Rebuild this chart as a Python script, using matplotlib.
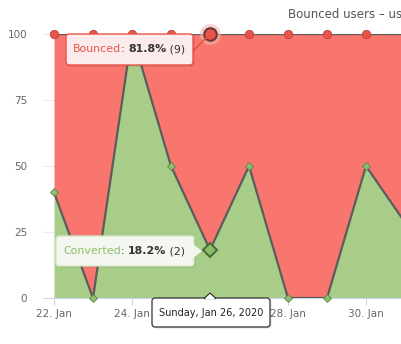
import numpy as np
import matplotlib.pyplot as plt
import matplotlib.dates as mdates
from matplotlib.patches import FancyBboxPatch, Polygon
import datetime as dt

# data: share of users per day (percent)
days = [dt.date(2020, 1, 22) + dt.timedelta(days=i) for i in range(10)]
converted = [40, 0, 100, 50, 18.2, 50, 0, 0, 50, 28.6]
bounced = [100 - v for v in converted]
y_ticks = [0, 25, 50, 75, 100]
title = "Bounced users \u2013 users who converted"
hover_idx = 4

red_fill = "#f8766d"
red_mark = "#e8534a"
green_fill = "#a7cd89"
green_mark = "#8cbf6b"
line_col = "#5c5c5c"

W, H = 401, 344
fig = plt.figure(figsize=(W / 100, H / 100), dpi=100)
ax = fig.add_axes([43 / W, 46 / H, (W - 43) / W, 264 / H])

x = mdates.date2num(days)
conv = np.array(converted)
top = conv + np.array(bounced)

ax.fill_between(x, 0, conv, color=green_fill, lw=0, zorder=1)
ax.fill_between(x, conv, top, color=red_fill, lw=0, zorder=1)
ax.plot(x, conv, color=line_col, lw=1.6, zorder=3)
ax.plot(x, top, color=line_col, lw=1.6, zorder=3)
ax.plot(x, conv, ls="none", marker="D", ms=4.5, mfc=green_mark, mec="#5e7f4b", mew=0.6, zorder=4, clip_on=False)
ax.plot(x, top, ls="none", marker="o", ms=6, mfc=red_mark, mec="#b5433c", mew=0.6, zorder=4, clip_on=False)

# hovered point
ax.plot(x[hover_idx], top[hover_idx], marker="o", ms=15, mfc="#f2b5b1", mec="none", alpha=0.6, zorder=4, clip_on=False)
ax.plot(x[hover_idx], top[hover_idx], marker="o", ms=9, mfc=red_mark, mec="#6b3a36", mew=1.5, zorder=5, clip_on=False)
ax.plot(x[hover_idx], conv[hover_idx], marker="D", ms=7, mfc=green_mark, mec="#4f6b3e", mew=1.5, zorder=5, clip_on=False)

day = 1.0
ax.set_xlim(x[0] - 11 / 39 * day, x[0] + (W - 54) / 39 * day)
ax.set_ylim(0, 100)
ax.set_yticks(y_ticks)
ax.set_yticklabels([str(t) for t in y_ticks])
ax.set_xticks(x[::2])
ax.xaxis.set_major_formatter(mdates.DateFormatter("%d. %b"))
ax.grid(axis="y", color="#ececec", lw=0.8, zorder=0)
ax.set_axisbelow(True)
for s in ["top", "right", "left"]:
    ax.spines[s].set_visible(False)
ax.spines["bottom"].set_color("#ccd6eb")
ax.tick_params(axis="y", length=0, pad=11.5, labelsize=7.5, labelcolor="#666666")
ax.tick_params(axis="x", length=5, color="#ccd6eb", pad=3, labelsize=7.5, labelcolor="#666666")
# the date tooltip covers this label in the original
ax.get_xticklabels()[2].set_visible(False)

# overlay in pixel coordinates for title and tooltips
ov = fig.add_axes([0, 0, 1, 1], facecolor="none")
ov.set_xlim(0, W)
ov.set_ylim(H, 0)
ov.axis("off")

ov.text(288, 14, title, fontsize=8.5, color="#555555", va="center", ha="left")

def box(x0, y0, x1, y1, fc, ec, lw=1.0):
    sh = FancyBboxPatch((x0 + 1.5, y0 + 1.5), x1 - x0, y1 - y0, boxstyle="round,pad=0,rounding_size=3",
                        fc="#000000", ec="none", alpha=0.12, zorder=8)
    ov.add_patch(sh)
    b = FancyBboxPatch((x0, y0), x1 - x0, y1 - y0, boxstyle="round,pad=0,rounding_size=3",
                       fc=fc, ec=ec, lw=lw, zorder=9)
    ov.add_patch(b)

def rich(x0, y0, parts, size=7.9):
    r = fig.canvas.get_renderer()
    cx = x0
    for s, col, wt in parts:
        t = ov.text(cx, y0, s, fontsize=size, color=col, fontweight=wt, va="center", ha="left", zorder=10)
        bb = t.get_window_extent(renderer=r)
        cx += bb.width

# bounced tooltip
ov.plot([193, 207], [51, 37], color=red_mark, lw=1.2, zorder=7)
box(66, 34, 193, 65, "#fbeceb", "#e8534a")
rich(73, 49.5, [("Bounced", "#e8534a", "normal"), (": ", "#333333", "normal"),
                ("%.1f%%" % bounced[hover_idx], "#333333", "bold"), (" (9)", "#333333", "normal")])

# converted tooltip
box(56, 236, 194, 266, "#f3f7ef", "#d5e6c8")
ov.add_patch(Polygon([[193, 244], [202, 251], [193, 258]], closed=True, fc="#f3f7ef", ec="none", zorder=9))
rich(63, 251, [("Converted", "#8cbf6b", "normal"), (": ", "#333333", "normal"),
               ("%.1f%%" % converted[hover_idx], "#333333", "bold"), (" (2)", "#333333", "normal")])

# date tooltip
box(152, 298, 270, 327, "#ffffff", "#333333", lw=0.9)
ov.add_patch(Polygon([[204, 298.6], [210, 293], [216, 298.6]], closed=True, fc="#ffffff", ec="#333333", lw=0.9, zorder=9))
ov.add_patch(Polygon([[204.5, 299.3], [210, 294.3], [215.5, 299.3]], closed=True, fc="#ffffff", ec="none", zorder=9))
ov.text(211, 313, days[hover_idx].strftime("%A, %b %d, %Y"), fontsize=7.0, color="#222222",
        ha="center", va="center", zorder=10)

fig.savefig("out.png", dpi=100)
